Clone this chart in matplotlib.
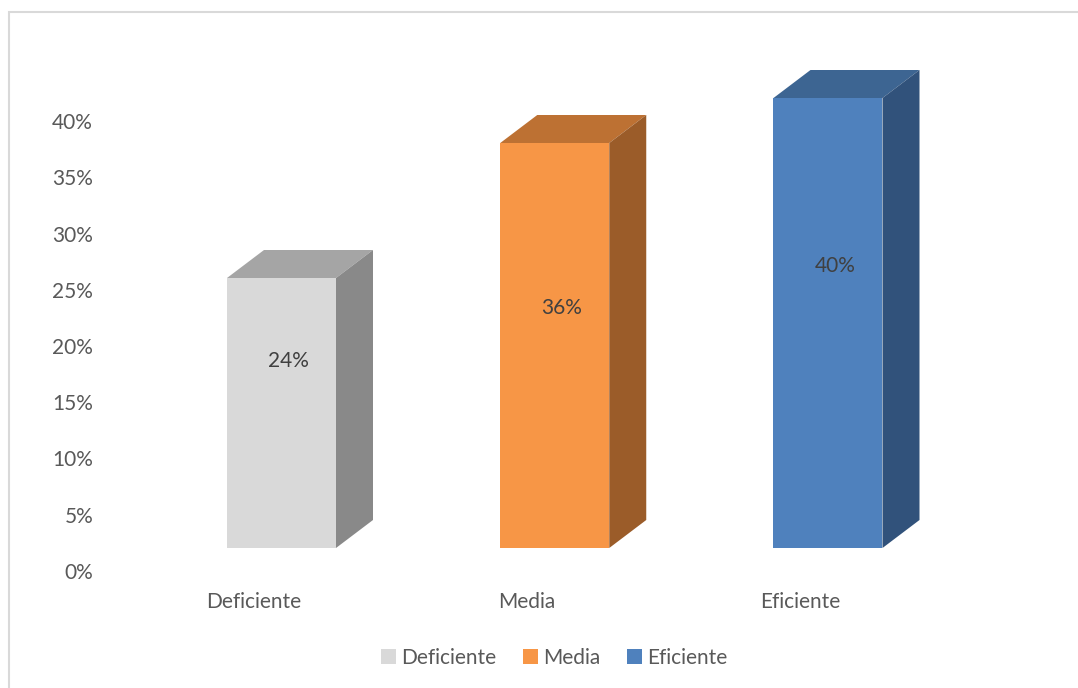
import matplotlib.pyplot as plt
import numpy as np
from matplotlib.patches import Polygon, Rectangle

categorias = ['Deficiente', 'Media', 'Eficiente']
valores = [0.24, 0.36, 0.40]
etiquetas = ['24%', '36%', '40%']
ticks_y = [0.0, 0.05, 0.10, 0.15, 0.20, 0.25, 0.30, 0.35, 0.40]

color_frente = ['#D9D9D9', '#F79646', '#4F81BD']
color_techo = ['#A5A5A5', '#BD7133', '#3D6592']
color_lado = ['#898989', '#9B5C29', '#31527B']
# altura de cada etiqueta de valor sobre el eje
alto_etiqueta = [0.187, 0.234, 0.271]

plt.rcParams['font.family'] = ['Lato', 'DejaVu Sans']
tam = 15

fig = plt.figure(figsize=(10.78, 6.88), dpi=100)
W, H = 1078, 688
ax = fig.add_axes([100 / W, (H - 571) / H, 910 / W, 0.46 * 1125 / H])

x0 = 281.5
paso = 273.25
ax.set_xlim((100 - x0) / paso, (1010 - x0) / paso)
ax.set_ylim(0, 0.46)

ancho = 109 / paso
dx = 37 / paso
dy = 28 / 1125
base = 23 / 1125

for i, v in enumerate(valores):
    izq, der = i - ancho / 2, i + ancho / 2
    arriba = base + v
    # cara frontal
    ax.add_patch(Rectangle((izq, base), ancho, v, facecolor=color_frente[i],
                           edgecolor='none', clip_on=False, zorder=3))
    # techo
    ax.add_patch(Polygon([(izq, arriba), (der, arriba), (der + dx, arriba + dy),
                          (izq + dx, arriba + dy)], closed=True,
                         facecolor=color_techo[i], edgecolor='none',
                         clip_on=False, zorder=2))
    # lado derecho
    ax.add_patch(Polygon([(der, base), (der + dx, base + dy), (der + dx, arriba + dy),
                          (der, arriba)], closed=True, facecolor=color_lado[i],
                         edgecolor='none', clip_on=False, zorder=2))
    ax.text(i + 7 / paso, alto_etiqueta[i], etiquetas[i], ha='center', va='center',
            fontsize=tam, color='#404040', zorder=4)

ax.set_yticks(ticks_y)
ax.set_yticklabels([f'{int(round(t * 100))}%' for t in ticks_y])
ax.set_xticks(np.arange(len(categorias)) - 27.5 / paso)
ax.set_xticklabels(categorias)
ax.tick_params(axis='both', length=0, labelsize=tam, labelcolor='#595959')
ax.tick_params(axis='y', pad=5)
ax.tick_params(axis='x', pad=15)
for s in ax.spines.values():
    s.set_visible(False)

# leyenda inferior
manijas = [Rectangle((0, 0), 1, 1, facecolor=c, edgecolor='none') for c in color_frente]
fig.legend(manijas, categorias, loc='center', bbox_to_anchor=(554 / W, 1 - 658 / H),
           ncol=3, frameon=False, fontsize=tam, labelcolor='#595959',
           handlelength=0.7, handleheight=0.7, handletextpad=0.25,
           columnspacing=1.3)

# marco del gráfico
fig.patches.append(Rectangle((9 / W, -0.1), 1.2, 1.1 - 12 / H, transform=fig.transFigure,
                             fill=False, edgecolor='#D9D9D9', linewidth=1.5))

fig.savefig('out.png', dpi=100)
